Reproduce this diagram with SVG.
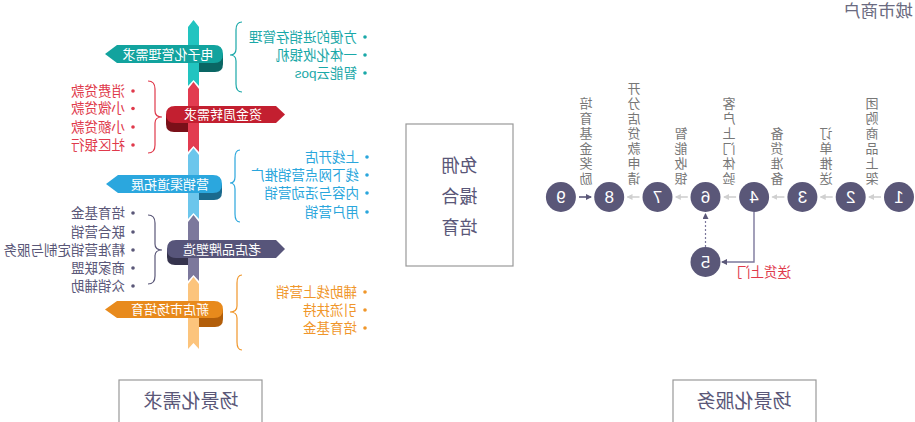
<svg xmlns="http://www.w3.org/2000/svg" width="915" height="422" viewBox="0 0 915 422">
<defs>
<style>
text{font-family:"Liberation Sans","Noto Sans CJK SC",sans-serif;}
.bt{fill:#fff;font-size:13px;text-anchor:middle;}
.it{font-size:13.5px;}
.brk{fill:none;stroke-width:1.2;}
.vt{font-size:13px;fill:#777;writing-mode:vertical-rl;letter-spacing:2px;}
.num{font-family:"Liberation Sans",Arial,sans-serif;font-size:17px;fill:#fff;text-anchor:middle;}
.c{fill:#5a5778;}
.box{fill:#fff;stroke:#999;stroke-width:1.2;}
.ga{stroke:#d0d0d0;stroke-width:1.6;marker-end:url(#mg);}
</style>
<marker id="mg" viewBox="0 0 6 6" refX="5" refY="3" markerWidth="6" markerHeight="6" markerUnits="userSpaceOnUse" orient="auto"><path d="M0,0 L6,3 L0,6 Z" fill="#d0d0d0"/></marker>
<marker id="md" viewBox="0 0 6 6" refX="5" refY="3" markerWidth="6" markerHeight="6" markerUnits="userSpaceOnUse" orient="auto"><path d="M0,0 L6,3 L0,6 Z" fill="#5a5778"/></marker>
</defs>
<g transform="matrix(-1 0 0 1 915 0)">
<g id="ribbon">
<polygon points="716,27 721.5,20 727,27 727,86 721.5,80 716,86" fill="#22c4c0"/>
<polygon points="716,89 721.5,82 727,89 727,152 721.5,146 716,152" fill="#e23b50"/>
<polygon points="716,155 721.5,148 727,155 727,219 721.5,213 716,219" fill="#6cc6ec"/>
<polygon points="716,222 721.5,215 727,222 727,281 721.5,275 716,281" fill="#7c789c"/>
<polygon points="716,284 721.5,277 727,284 727,349 721.5,343 716,349" fill="#fcc47c"/>
</g>
<g id="n-ecommerce">
<path d="M692,54 L692,64 Q692,72 700,72 L716,72 L716,60 Z" fill="#0a6664"/>
<path d="M692,54 Q692,45 701,45 L798,45 L810,54 L798,63 L701,63 Q692,63 692,54 Z" fill="#12a39e"/>
<text class="bt" x="747" y="58.5">电子化管理需求</text>
<path class="brk" stroke="#1aa8a8" d="M673,22 Q679,22 679,30 L679,49 Q679,55 685,55 Q679,55 679,61 L679,84 Q679,92 673,92"/>
<g fill="#1aa8a8" class="it">
<circle cx="550" cy="37" r="1.8"/><text x="558" y="41.5">方便的进销存管理</text>
<circle cx="550" cy="55" r="1.8"/><text x="558" y="59.5">一体化收银机</text>
<circle cx="550" cy="73" r="1.8"/><text x="558" y="77.5">智能云pos</text>
</g>
</g>
<g id="n-funding">
<path d="M749,114.5 L749,124 Q749,132 741,132 L727,132 L727,120 Z" fill="#7a1019"/>
<path d="M630,114.5 L639,106 L740,106 Q749,106 749,114.5 Q749,123 740,123 L639,123 Z" fill="#c31f30"/>
<text class="bt" x="692" y="119">资金周转需求</text>
<path class="brk" stroke="#e0394b" d="M767,81 Q760,81 760,89 L760,111 Q760,117 753,117 Q760,117 760,123 L760,145 Q760,153 767,153"/>
<g fill="#e0394b" class="it">
<circle cx="782" cy="91" r="1.8"/><text x="790" y="95.5">消费贷款</text>
<circle cx="782" cy="108.5" r="1.8"/><text x="790" y="113">小微贷款</text>
<circle cx="782" cy="127" r="1.8"/><text x="790" y="131.5">小额贷款</text>
<circle cx="782" cy="145" r="1.8"/><text x="790" y="149.5">社区银行</text>
</g>
</g>
<g id="n-marketing">
<path d="M693,184 L693,192 Q693,200 701,200 L716,200 L716,190 Z" fill="#1a6a8e"/>
<path d="M693,184 Q693,175 702,175 L797,175 L809,184 L797,193 L702,193 Q693,193 693,184 Z" fill="#2ba7de"/>
<text class="bt" x="745" y="188.5">营销渠道拓展</text>
<path class="brk" stroke="#2aa6dc" d="M675,150 Q680,150 680,158 L680,177 Q680,183 685,183 Q680,183 680,189 L680,214 Q680,222 675,222"/>
<g fill="#2aa6dc" class="it">
<circle cx="548" cy="157" r="1.8"/><text x="556" y="161.5">上线开店</text>
<circle cx="548" cy="175" r="1.8"/><text x="556" y="179.5">线下网点营销推广</text>
<circle cx="548" cy="193" r="1.8"/><text x="556" y="197.5">内容与活动营销</text>
<circle cx="548" cy="212" r="1.8"/><text x="556" y="216.5">用户营销</text>
</g>
</g>
<g id="n-brand">
<path d="M748,249 L748,257 Q748,265 740,265 L727,265 L727,254 Z" fill="#35334d"/>
<path d="M630,249 L639,240 L739,240 Q748,240 748,249 Q748,258 739,258 L639,258 Z" fill="#57557a"/>
<text class="bt" x="693" y="253.5">老店品牌塑造</text>
<path class="brk" stroke="#5a5778" d="M767,215 Q760,215 760,223 L760,244 Q760,250 753,250 Q760,250 760,256 L760,276 Q760,284 767,284"/>
<g fill="#5a5778" class="it">
<circle cx="782" cy="213" r="1.8"/><text x="790" y="217.5">培育基金</text>
<circle cx="782" cy="232" r="1.8"/><text x="790" y="236.5">联合营销</text>
<circle cx="782" cy="250" r="1.8"/><text x="790" y="254.5">精准营销定制与服务</text>
<circle cx="782" cy="268" r="1.8"/><text x="790" y="272.5">商家联盟</text>
<circle cx="782" cy="286" r="1.8"/><text x="790" y="290.5">众销辅助</text>
</g>
</g>
<g id="n-newstore">
<path d="M692,309.5 L692,319 Q692,327 700,327 L716,327 L716,315 Z" fill="#b25e0a"/>
<path d="M692,309.5 Q692,301 701,301 L798,301 L810,309.5 L798,318 L701,318 Q692,318 692,309.5 Z" fill="#e88a1c"/>
<text class="bt" x="745" y="314">新店市场培育</text>
<path class="brk" stroke="#f0962a" d="M673,275 Q678,275 678,283 L678,306 Q678,312 685,312 Q678,312 678,318 L678,342 Q678,350 673,350"/>
<g fill="#f0962a" class="it">
<circle cx="550" cy="292" r="1.8"/><text x="558" y="296.5">辅助线上营销</text>
<circle cx="550" cy="310" r="1.8"/><text x="558" y="314.5">引流扶持</text>
<circle cx="550" cy="328" r="1.8"/><text x="558" y="332.5">培育基金</text>
</g>
</g>
<g id="n-center">
<rect class="box" x="402" y="124" width="107" height="142"/>
<g fill="#5a5778" font-size="18" text-anchor="middle">
<text x="455.5" y="172">免佣</text>
<text x="455.5" y="203">撮合</text>
<text x="455.5" y="234">培育</text>
</g>
</g>
<g id="n-demand">
<rect class="box" x="653" y="380" width="143" height="50"/>
<text x="724" y="408" font-size="19" fill="#5a5778" text-anchor="middle">场景化需求</text>
</g>
<g id="n-service">
<rect class="box" x="99" y="380" width="143" height="50"/>
<text x="171" y="408" font-size="19" fill="#5a5778" text-anchor="middle">场景化服务</text>
</g>
<g id="n-title">
<text x="2" y="17" font-size="17.5" fill="#6a6a80">城市商户</text>
</g>
<g id="connectors">
<line class="ga" x1="34" y1="197" x2="46" y2="197"/>
<line class="ga" x1="82.3" y1="197" x2="94.3" y2="197"/>
<line class="ga" x1="130.6" y1="197" x2="142.6" y2="197"/>
<line class="ga" x1="178.9" y1="197" x2="190.9" y2="197"/>
<line class="ga" x1="227.2" y1="197" x2="239.2" y2="197"/>
<line class="ga" x1="275.5" y1="197" x2="287.5" y2="197"/>
<line x1="336" y1="197" x2="324" y2="197" stroke="#5a5778" stroke-width="1.6" marker-end="url(#md)"/>
<path d="M161,212 L161,262 L193,262" fill="none" stroke="#7c789c" stroke-width="1.4" marker-end="url(#md)"/>
<line x1="209.5" y1="247" x2="209.5" y2="214" stroke="#7c789c" stroke-width="1.2" stroke-dasharray="2,2" marker-end="url(#md)"/>
<text x="124" y="277" font-size="13.5" fill="#e0394b">送货上门</text>
</g>
<g id="s1"><circle class="c" cx="16" cy="197" r="15"/><text class="num" x="16" y="203">1</text>
<text class="vt" x="42" y="97">团购商品上架</text></g>
<g id="s2"><circle class="c" cx="64.3" cy="197" r="15"/><text class="num" x="64.3" y="203">2</text>
<text class="vt" x="88" y="127">订单推送</text></g>
<g id="s3"><circle class="c" cx="112.6" cy="197" r="15"/><text class="num" x="112.6" y="203">3</text>
<text class="vt" x="137" y="127">备货准备</text></g>
<g id="s4"><circle class="c" cx="160.9" cy="197" r="15"/><text class="num" x="160.9" y="203">4</text>
<text class="vt" x="185" y="97">客户上门体验</text></g>
<g id="s6"><circle class="c" cx="209.5" cy="197" r="15"/><text class="num" x="209.5" y="203">6</text>
<text class="vt" x="233" y="127">智能收银</text></g>
<g id="s7"><circle class="c" cx="257.5" cy="197" r="15"/><text class="num" x="257.5" y="203">7</text>
<text class="vt" x="280" y="82">开分店贷款申请</text></g>
<g id="s8"><circle class="c" cx="305.8" cy="197" r="15"/><text class="num" x="305.8" y="203">8</text>
<text class="vt" x="328" y="97">培育基金奖励</text></g>
<g id="s9"><circle class="c" cx="354.1" cy="197" r="15"/><text class="num" x="354.1" y="203">9</text></g>
<g id="s5"><circle class="c" cx="209.5" cy="262" r="15"/><text class="num" x="209.5" y="268">5</text></g>
</g>
</svg>
